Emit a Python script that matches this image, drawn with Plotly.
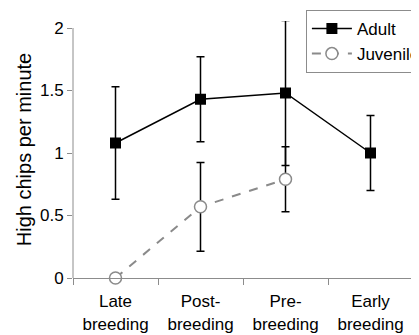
import plotly.graph_objects as go

categories = ["Late<br>breeding", "Post-<br>breeding", "Pre-<br>breeding", "Early<br>breeding"]
adult = [1.08, 1.43, 1.48, 1.00]
adult_err = [0.45, 0.34, 0.58, 0.30]
juv_cats = ["Late<br>breeding", "Post-<br>breeding", "Pre-<br>breeding"]
juvenile = [0.0, 0.57, 0.79]
juv_err = [0.0, 0.355, 0.26]
ytick_vals = [0, 0.5, 1, 1.5, 2]
ytick_text = ["0", "0.5", "1", "1.5", "2"]

FONT = "Liberation Sans, Arial, sans-serif"
GRAY = "#8c8c8c"

fig = go.Figure()
fig.add_trace(go.Scatter(
    x=categories, y=adult, name="Adult", mode="lines+markers",
    line=dict(color="black", width=1.5),
    marker=dict(symbol="square", size=11, color="black"),
    error_y=dict(type="data", array=adult_err, visible=True, color="black", thickness=1.5, width=4),
    cliponaxis=False,
))
fig.add_trace(go.Scatter(
    x=juv_cats, y=juvenile, name="Juvenile", mode="lines+markers",
    line=dict(color="#8a8a8a", width=2, dash="dash"),
    marker=dict(symbol="circle", size=12, color="white", line=dict(color="#8a8a8a", width=1.5)),
    error_y=dict(type="data", array=juv_err, visible=True, color="black", thickness=1.5, width=4),
    cliponaxis=False,
))

fig.add_shape(type="line", xref="paper", yref="y", x0=0, x1=0, y0=0, y1=2,
              line=dict(color=GRAY, width=1), layer="below")

fig.update_layout(
    width=411, height=327,
    margin=dict(l=65, r=6, t=13, b=57, autoexpand=False),
    paper_bgcolor="white", plot_bgcolor="white",
    font=dict(family=FONT, size=17, color="black"),
    showlegend=True,
    legend=dict(
        x=0.685, y=1.043, xanchor="left", yanchor="top",
        bordercolor=GRAY, borderwidth=1, bgcolor="white",
        font=dict(family=FONT, size=17, color="black"),
        itemwidth=40, tracegroupgap=0,
    ),
    xaxis=dict(
        type="category", range=[-0.5, 3.5], showline=True, linecolor=GRAY, linewidth=1,
        ticks="outside", tickson="boundaries", ticklen=6, tickcolor=GRAY,
        showgrid=False, zeroline=False, tickfont=dict(size=17), ticklabelstandoff=8,
    ),
    yaxis=dict(
        range=[0, 2.056], showline=False, ticks="outside", ticklen=5, tickcolor=GRAY,
        tickvals=ytick_vals, ticktext=ytick_text, showgrid=False, zeroline=False,
        tickfont=dict(size=17),
        title=dict(text="High chips per minute", font=dict(size=20), standoff=2),
    ),
)

fig.write_html("out.html")
